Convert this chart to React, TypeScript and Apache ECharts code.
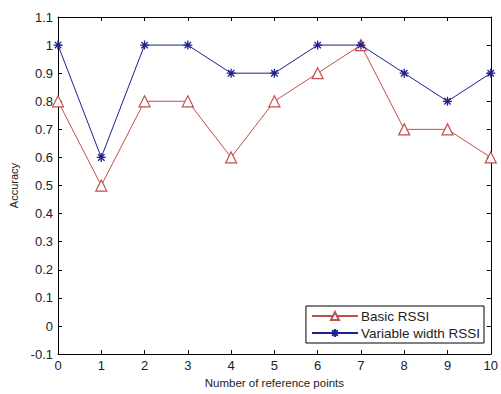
import React, { useEffect, useRef } from "react";
import * as echarts from "echarts";

const xValues = [0, 1, 2, 3, 4, 5, 6, 7, 8, 9, 10];
const basicRSSI = [0.8, 0.5, 0.8, 0.8, 0.6, 0.8, 0.9, 1.0, 0.7, 0.7, 0.6];
const variableRSSI = [1.0, 0.6, 1.0, 1.0, 0.9, 0.9, 1.0, 1.0, 0.9, 0.8, 0.9];
const seriesNames = ["Basic RSSI", "Variable width RSSI"];
const xTitle = "Number of reference points";
const yTitle = "Accuracy";

const RED = "#c0504d";
const BLUE = "#1f1f8f";
const FONT = "Liberation Sans, Arial, sans-serif";

const fmt = (v: number) => {
  const r = Math.round(v * 10) / 10;
  return String(r === 0 ? 0 : r);
};

export default function App() {
  const ref = useRef<HTMLDivElement>(null);
  useEffect(() => {
    if (!ref.current) return;
    const chart = echarts.init(ref.current, null, { renderer: "svg" });
    const tickCommon = { show: true, inside: true, length: 4, lineStyle: { color: "#000" } };
    chart.setOption({
      animation: false,
      backgroundColor: "#fff",
      textStyle: { fontFamily: FONT },
      grid: { left: 58, top: 17, right: 7, bottom: 33, containLabel: false },
      xAxis: [
        {
          type: "value",
          min: 0,
          max: 10,
          interval: 1,
          axisLine: { show: true, onZero: false, lineStyle: { color: "#000", width: 1 } },
          axisTick: tickCommon,
          splitLine: { show: false },
          axisLabel: { color: "#222", fontSize: 13, margin: 5, fontFamily: FONT },
          name: xTitle,
          nameLocation: "middle",
          nameGap: 21,
          nameTextStyle: { color: "#222", fontSize: 11.5, fontFamily: FONT },
        },
        {
          type: "value",
          position: "top",
          min: 0,
          max: 10,
          interval: 1,
          axisLine: { show: true, onZero: false, lineStyle: { color: "#000", width: 1 } },
          axisTick: tickCommon,
          splitLine: { show: false },
          axisLabel: { show: false },
        },
      ],
      yAxis: [
        {
          type: "value",
          min: -0.1,
          max: 1.1,
          interval: 0.1,
          axisLine: { show: true, onZero: false, lineStyle: { color: "#000", width: 1 } },
          axisTick: tickCommon,
          splitLine: { show: false },
          axisLabel: { color: "#222", fontSize: 13, margin: 5, fontFamily: FONT, formatter: fmt },
          name: yTitle,
          nameLocation: "middle",
          nameGap: 38,
          nameTextStyle: { color: "#222", fontSize: 11, fontFamily: FONT },
        },
        {
          type: "value",
          position: "right",
          min: -0.1,
          max: 1.1,
          interval: 0.1,
          axisLine: { show: true, onZero: false, lineStyle: { color: "#000", width: 1 } },
          axisTick: tickCommon,
          splitLine: { show: false },
          axisLabel: { show: false },
        },
      ],
      legend: {
        orient: "vertical",
        right: 17,
        bottom: 51,
        backgroundColor: "#fff",
        borderColor: "#000",
        borderWidth: 1,
        borderRadius: 0,
        padding: [3, 4, 3, 5],
        itemGap: 3,
        itemWidth: 46,
        itemHeight: 10,
        textStyle: { color: "#222", fontSize: 13.5, fontFamily: FONT, padding: [0, 0, 0, -2] },
        data: seriesNames,
      },
      series: [
        {
          name: seriesNames[0],
          type: "line",
          data: xValues.map((x, i) => [x, basicRSSI[i]]),
          color: RED,
          lineStyle: { color: RED, width: 1 },
          symbol: "triangle",
          symbolSize: 11,
          itemStyle: { color: "#fff", borderColor: RED, borderWidth: 1.2 },
          z: 2,
        },
        {
          name: seriesNames[1],
          type: "line",
          data: xValues.map((x, i) => [x, variableRSSI[i]]),
          color: BLUE,
          lineStyle: { color: BLUE, width: 1 },
          symbol: "path://M0,-5L0,5M-5,0L5,0M-3.6,-3.6L3.6,3.6M-3.6,3.6L3.6,-3.6",
          symbolSize: 9,
          itemStyle: { color: BLUE, borderColor: BLUE, borderWidth: 1.3 },
          z: 3,
        },
      ],
    });
    return () => chart.dispose();
  }, []);
  return (
    <div
      ref={ref}
      style={{ position: "fixed", left: 0, top: 0, width: 501, height: 394, overflow: "hidden" }}
    />
  );
}
